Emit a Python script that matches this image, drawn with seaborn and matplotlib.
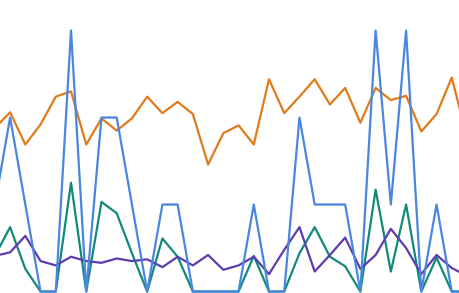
import numpy as np
import pandas as pd
import matplotlib
matplotlib.use("Agg")
import matplotlib.pyplot as plt
import seaborn as sns

# x index positions (first and last points lie just outside the visible frame)
steps = list(range(32))

blue = [1, 2, 1, 0, 0, 3, 0, 2, 2, 1, 0, 1, 1, 0, 0, 0, 0, 1, 0, 0, 2, 1, 1, 1, 0, 3, 1, 3, 0, 1, 0, 0]
orange = [1.88, 2.06, 1.69, 1.92, 2.24, 2.30, 1.69, 1.99, 1.85, 1.99, 2.24, 2.05, 2.18, 2.04,
          1.46, 1.82, 1.91, 1.69, 2.44, 2.05, 2.24, 2.44, 2.15, 2.34, 1.94, 2.34, 2.20, 2.25,
          1.84, 2.04, 2.46, 1.77]
green = [0.41, 0.74, 0.26, 0.0, 0.0, 1.25, 0.0, 1.03, 0.90, 0.44, 0.0, 0.61, 0.40, 0.0,
         0.0, 0.0, 0.0, 0.41, 0.0, 0.0, 0.44, 0.74, 0.40, 0.29, 0.0, 1.17, 0.23, 1.00,
         0.0, 0.39, 0.0, 0.0]
purple = [0.41, 0.45, 0.64, 0.35, 0.30, 0.40, 0.35, 0.33, 0.38, 0.35, 0.37, 0.28, 0.40, 0.30,
          0.42, 0.25, 0.30, 0.40, 0.20, 0.48, 0.74, 0.23, 0.42, 0.62, 0.26, 0.42, 0.72, 0.50,
          0.20, 0.42, 0.27, 0.18]

# drawing order: bottom to top
series_names = ["green", "purple", "orange", "blue"]
series_values = {"blue": blue, "orange": orange, "green": green, "purple": purple}
colors = {"blue": "#4A86E0", "orange": "#E07B1A", "green": "#13897A", "purple": "#5E3BAE"}

frames = []
for name in series_names:
    frames.append(pd.DataFrame({"step": steps, "value": series_values[name], "series": name}))
df = pd.concat(frames, ignore_index=True)

sns.set_theme(style="white")
fig = plt.figure(figsize=(4.6, 2.93), dpi=100)
ax = fig.add_axes([0, 0, 1, 1])
sns.lineplot(data=df, x="step", y="value", hue="series", palette=colors,
             hue_order=series_names, linewidth=1.6, legend=False, ax=ax,
             estimator=None, sort=False)
ax.set_xlim(0.337, 30.54)
ax.set_ylim(-0.017, 3.351)
ax.axis("off")
fig.savefig("out.png", dpi=100, facecolor="white")
